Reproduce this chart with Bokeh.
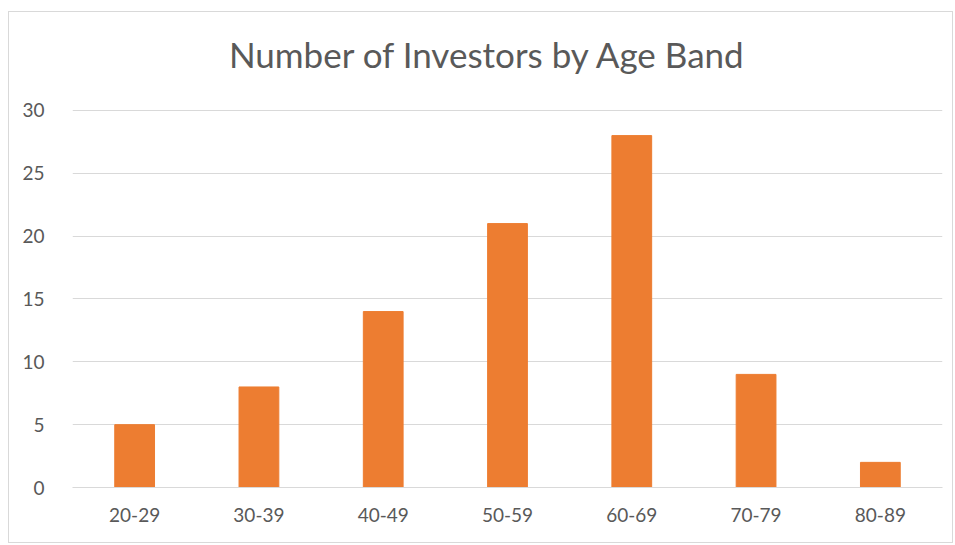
from bokeh.plotting import figure
from bokeh.models import Range1d, FixedTicker, Label
from bokeh.embed import file_html
from bokeh.resources import INLINE

age_bands = ["20-29", "30-39", "40-49", "50-59", "60-69", "70-79", "80-89"]
investors = [5, 8, 14, 21, 28, 9, 2]
y_ticks = [0, 5, 10, 15, 20, 25, 30]
title_text = "Number of Investors by Age Band"

FONT = "Lato"
TXT = "#595959"

# y range extends above 30 to leave room for the title inside the (unoutlined) frame
p = figure(x_range=age_bands, y_range=Range1d(0, 37), width=945, height=532,
           output_backend="svg", toolbar_location=None,
           min_border_left=63, min_border_right=12, min_border_top=10, min_border_bottom=57,
           styles={"border": "1px solid #d9d9d9", "margin": "11px 0 0 8px"})
p.outline_line_color = None
p.background_fill_color = "white"
p.border_fill_color = "white"

p.vbar(x=age_bands, top=investors, width=0.32, color="#ED7D31")

p.xgrid.grid_line_color = None
p.ygrid.grid_line_color = "#D9D9D9"
p.ygrid.grid_line_width = 1

p.yaxis.ticker = FixedTicker(ticks=y_ticks)
for ax in (p.xaxis, p.yaxis):
    ax.axis_line_color = None
    ax.major_tick_line_color = None
    ax.minor_tick_line_color = None
    ax.major_label_text_color = TXT
    ax.major_label_text_font = FONT
    ax.major_label_text_font_size = "19px"
p.yaxis.major_label_standoff = 22
p.xaxis.major_label_standoff = 14
p.xaxis.axis_line_color = "#D9D9D9"

p.add_layout(Label(x=3.343, y=34.5, text=title_text, text_align="center",
                   text_baseline="alphabetic", text_font=FONT, text_font_size="35px",
                   text_color=TXT))

open("out.html", "w").write(file_html(p, INLINE))
